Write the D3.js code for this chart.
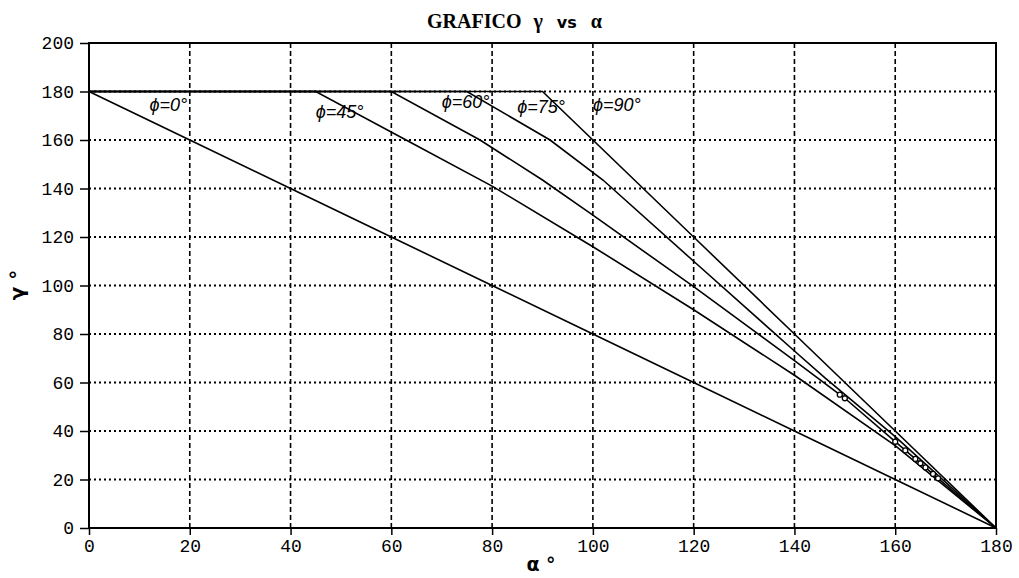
<!DOCTYPE html>
<html>
  <head>
    <title>GRAFICO gamma vs alpha</title>
    <meta charset="utf-8">
    <script src="https://d3js.org/d3.v7.min.js"></script>
    <style type="text/css">
      body { margin: 0; background: #fff; }
      #chart .tick text {
        font: 18px "Liberation Mono", monospace;
        fill: #000;
      }
      #chart .tick line { stroke: #000; stroke-width: 1.5; }
      #chart .domain { display: none; }
    </style>
  </head>
  <body>
    <svg id="chart"></svg>
    <script>
      // tick values
      var xTicks = [0, 20, 40, 60, 80, 100, 120, 140, 160, 180];
      var yTicks = [0, 20, 40, 60, 80, 100, 120, 140, 160, 180, 200];

      // curves, [alpha, gamma]
      var phi0  = [[0, 180], [20, 160], [40, 140], [60, 120], [80, 100], [100, 80], [120, 60], [140, 40], [160, 20], [180, 0]];
      var phi45 = [[0, 180], [45, 180], [62, 161], [80, 141], [100, 116], [120, 90], [140, 63], [160, 34], [180, 0]];
      var phi60 = [[0, 180], [60, 180], [77.6, 160], [90, 143.5], [100, 129], [120, 99.5], [140, 69], [150, 53.5], [160, 35.6], [180, 0]];
      var phi75 = [[0, 180], [75, 180], [91.5, 160], [102, 143.5], [120, 110], [140, 73], [146, 62], [160, 37.7], [180, 0]];
      var phi90 = [[0, 180], [90, 180], [100, 160], [120, 120], [140, 80], [160, 40], [180, 0]];
      var curves = [phi0, phi45, phi60, phi75, phi90];

      // little circles seen along the phi=60 line near the end
      var marks = [[149, 55], [150, 53.5], [160, 35.6], [162, 32], [164, 28.5], [165, 26.7], [166, 25], [167.5, 22.3], [168.5, 20.5]];

      // handwritten labels: text, alpha, gamma
      var labels = [["ϕ=0°", 12, 172], ["ϕ=45°", 45, 169], ["ϕ=60°", 70, 173], ["ϕ=75°", 85, 171], ["ϕ=90°", 100, 172]];

      var width = 1019, height = 578;
      var svg = d3.select("#chart").attr("width", width).attr("height", height);

      var x = d3.scaleLinear().domain([0, 180]).range([89, 996]);
      var y = d3.scaleLinear().domain([0, 200]).range([528, 43]);

      // grid
      svg.append("g").selectAll("line")
          .data(yTicks.filter(function(d) { return d > 0 && d < 200; }))
          .enter().append("line")
            .attr("x1", x(0)).attr("x2", x(180))
            .attr("y1", function(d) { return y(d); })
            .attr("y2", function(d) { return y(d); })
            .attr("stroke", "#000").attr("stroke-width", 2)
            .attr("stroke-dasharray", "2,3");

      svg.append("g").selectAll("line")
          .data(xTicks.filter(function(d) { return d > 0 && d < 180; }))
          .enter().append("line")
            .attr("x1", function(d) { return x(d); })
            .attr("x2", function(d) { return x(d); })
            .attr("y1", y(0)).attr("y2", y(200))
            .attr("stroke", "#000").attr("stroke-width", 1.6)
            .attr("stroke-dasharray", "5,3");

      // curves
      var line = d3.line()
          .x(function(d) { return x(d[0]); })
          .y(function(d) { return y(d[1]); });

      svg.append("g").selectAll("path")
          .data(curves)
          .enter().append("path")
            .attr("d", line)
            .attr("fill", "none")
            .attr("stroke", "#000")
            .attr("stroke-width", 1.6);

      svg.append("g").selectAll("circle")
          .data(marks)
          .enter().append("circle")
            .attr("cx", function(d) { return x(d[0]); })
            .attr("cy", function(d) { return y(d[1]); })
            .attr("r", 2.5)
            .attr("fill", "#fff")
            .attr("stroke", "#000")
            .attr("stroke-width", 1.3);

      // frame
      svg.append("rect")
          .attr("x", x(0)).attr("y", y(200))
          .attr("width", x(180) - x(0)).attr("height", y(0) - y(200))
          .attr("fill", "none").attr("stroke", "#000").attr("stroke-width", 2);

      // axes
      svg.append("g")
          .attr("transform", "translate(" + x(0) + ",0)")
          .call(d3.axisLeft(y).tickValues(yTicks).tickSize(9).tickPadding(6));

      svg.append("g")
          .attr("transform", "translate(0," + y(0) + ")")
          .call(d3.axisBottom(x).tickValues(xTicks).tickSize(7).tickPadding(4));

      // handwritten phi labels
      svg.append("g").selectAll("text")
          .data(labels)
          .enter().append("text")
            .attr("x", function(d) { return x(d[1]); })
            .attr("y", function(d) { return y(d[2]); })
            .attr("font-family", "Liberation Sans, sans-serif")
            .attr("font-style", "italic")
            .attr("font-size", 18)
            .text(function(d) { return d[0]; });

      // title
      var title = svg.append("text")
          .attr("x", 427).attr("y", 28)
          .attr("font-family", "Liberation Serif, serif")
          .attr("font-weight", "bold")
          .attr("font-size", 20);
      title.append("tspan").text("GRAFICO");
      title.append("tspan").attr("dx", 12).text("γ");
      title.append("tspan").attr("dx", 14).attr("font-family", "DejaVu Sans, sans-serif").attr("font-size", 16).text("vs");
      title.append("tspan").attr("dx", 14).text("α");

      // axis titles
      svg.append("text")
          .attr("transform", "translate(24,285) rotate(-90)")
          .attr("text-anchor", "middle")
          .attr("font-family", "DejaVu Sans, sans-serif")
          .attr("font-weight", "bold")
          .attr("font-size", 20)
          .text("γ °");

      svg.append("text")
          .attr("x", 541).attr("y", 571)
          .attr("text-anchor", "middle")
          .attr("font-family", "DejaVu Sans, sans-serif")
          .attr("font-weight", "bold")
          .attr("font-size", 19)
          .text("α °");
    </script>
  </body>
</html>
